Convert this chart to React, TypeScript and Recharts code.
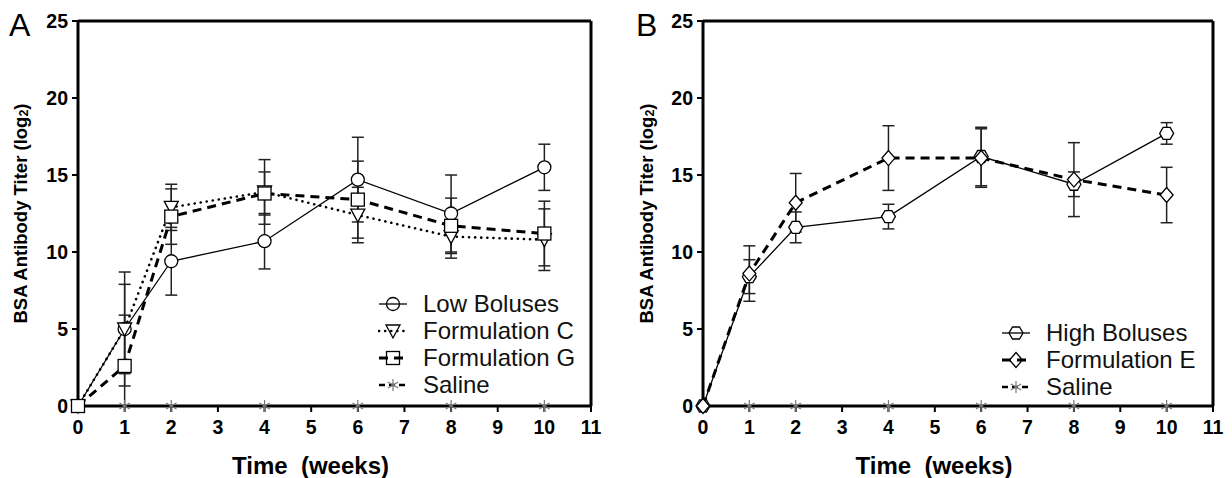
import { LineChart, Line, XAxis, YAxis, ErrorBar, ReferenceLine } from 'recharts';

const weeks = [0, 1, 2, 4, 6, 8, 10];
const xTicks = [0, 1, 2, 3, 4, 5, 6, 7, 8, 9, 10, 11];
const yTicks = [0, 5, 10, 15, 20, 25];

// panel A
const lowBoluses = [0, 5.0, 9.4, 10.7, 14.7, 12.5, 15.5];
const lowBolusesErr = [0, 3.7, 2.2, 1.8, 2.75, 2.5, 1.5];
const formulationC = [0, 5.0, 12.9, 13.9, 12.4, 11.0, 10.8];
const formulationCErr = [0, 2.9, 1.5, 2.1, 1.8, 1.4, 2.0];
const formulationG = [0, 2.6, 12.3, 13.8, 13.4, 11.7, 11.2];
const formulationGErr = [0, 3.3, 1.8, 1.4, 2.5, 1.8, 2.1];
const salineA = [0, 0, 0, 0, 0, 0, 0];

// panel B
const highBoluses = [0, 8.4, 11.6, 12.3, 16.2, 14.4, 17.7];
const highBolusesErr = [0, 1.1, 1.0, 0.8, 1.9, 0.8, 0.7];
const formulationE = [0, 8.6, 13.2, 16.1, 16.1, 14.7, 13.7];
const formulationEErr = [0, 1.8, 1.9, 2.1, 1.9, 2.4, 1.8];
const salineB = [0, 0, 0, 0, 0, 0, 0];

// lower whisker stops at the axis (titer can't go below 0)
const clipErr = (vals: number[], errs: number[]) => errs.map((e, i) => [Math.min(e, vals[i]), e]);

const makeRows = (cols: Record<string, (number | number[])[]>) =>
  weeks.map((w, i) => {
    const row: Record<string, any> = { week: w };
    Object.keys(cols).forEach((k) => (row[k] = cols[k][i]));
    return row;
  });

const dataA = makeRows({
  low: lowBoluses, lowErr: clipErr(lowBoluses, lowBolusesErr),
  c: formulationC, cErr: clipErr(formulationC, formulationCErr),
  g: formulationG, gErr: clipErr(formulationG, formulationGErr),
  saline: salineA,
});

const dataB = makeRows({
  high: highBoluses, highErr: clipErr(highBoluses, highBolusesErr),
  e: formulationE, eErr: clipErr(formulationE, formulationEErr),
  saline: salineB,
});

const FONT = '"Liberation Sans", Arial, Helvetica, sans-serif';

// marker shapes
const marker = (kind: string, cx: number, cy: number, fill = '#fff', key?: string) => {
  const s = { stroke: '#000', strokeWidth: 1.3, fill };
  switch (kind) {
    case 'circle':
      return <circle key={key} cx={cx} cy={cy} r={6.5} {...s} />;
    case 'triangle':
      return <polygon key={key} points={`${cx - 7},${cy - 6} ${cx + 7},${cy - 6} ${cx},${cy + 7}`} {...s} />;
    case 'square':
      return <rect key={key} x={cx - 6.5} y={cy - 6.5} width={13} height={13} {...s} />;
    case 'hexagon':
      return (
        <polygon
          key={key}
          points={`${cx + 7},${cy} ${cx + 3.5},${cy - 6} ${cx - 3.5},${cy - 6} ${cx - 7},${cy} ${cx - 3.5},${cy + 6} ${cx + 3.5},${cy + 6}`}
          {...s}
        />
      );
    case 'diamond':
      return <polygon key={key} points={`${cx},${cy - 7.5} ${cx + 6.5},${cy} ${cx},${cy + 7.5} ${cx - 6.5},${cy}`} {...s} />;
    default:
      return (
        <g key={key} stroke="#777" strokeWidth={1.2}>
          <line x1={cx} y1={cy - 6} x2={cx} y2={cy + 6} />
          <line x1={cx - 5.2} y1={cy - 3} x2={cx + 5.2} y2={cy + 3} />
          <line x1={cx - 5.2} y1={cy + 3} x2={cx + 5.2} y2={cy - 3} />
        </g>
      );
  }
};

const dotOf = (kind: string) => (p: any) => marker(kind, p.cx, p.cy, '#fff', `${kind}-${p.index}`);

type SeriesDef = {
  key: string;
  err?: string;
  name: string;
  kind: string;
  stroke: string;
  width: number;
  dash?: string;
  cap?: 'round' | 'butt';
};

const seriesA: SeriesDef[] = [
  { key: 'saline', name: 'Saline', kind: 'star', stroke: '#bbb', width: 1.2, dash: '6 6' },
  { key: 'low', err: 'lowErr', name: 'Low Boluses', kind: 'circle', stroke: '#000', width: 1.3 },
  { key: 'c', err: 'cErr', name: 'Formulation C', kind: 'triangle', stroke: '#000', width: 2.6, dash: '0.1 6', cap: 'round' },
  { key: 'g', err: 'gErr', name: 'Formulation G', kind: 'square', stroke: '#000', width: 3, dash: '9 6' },
];

const seriesB: SeriesDef[] = [
  { key: 'saline', name: 'Saline', kind: 'star', stroke: '#bbb', width: 1.2, dash: '6 6' },
  { key: 'high', err: 'highErr', name: 'High Boluses', kind: 'hexagon', stroke: '#000', width: 1.3 },
  { key: 'e', err: 'eErr', name: 'Formulation E', kind: 'diamond', stroke: '#000', width: 3, dash: '9 6' },
];

const legendOrderA = ['low', 'c', 'g', 'saline'];
const legendOrderB = ['high', 'e', 'saline'];

const LegendBox = ({ series, order, left, top }: { series: SeriesDef[]; order: string[]; left: number; top: number }) => (
  <div style={{ position: 'absolute', left, top, fontFamily: FONT, fontSize: 24, color: '#111', lineHeight: '27px' }}>
    {order.map((k) => {
      const s = series.find((d) => d.key === k)!;
      return (
        <div key={k} style={{ display: 'flex', alignItems: 'center', height: 27 }}>
          <svg width={30} height={20} style={{ marginRight: 15 }}>
            <line
              x1={1} y1={10} x2={29} y2={10}
              stroke="#000"
              strokeWidth={s.kind === 'star' ? 2.5 : s.width}
              strokeDasharray={s.kind === 'star' ? '6 4' : s.dash}
              strokeLinecap={s.cap ?? 'butt'}
            />
            {marker(s.kind, 15, 10, 'none')}
          </svg>
          <span>{s.name}</span>
        </div>
      );
    })}
  </div>
);

const YTitle = ({ viewBox, cx }: any) => {
  const cy = viewBox.y + viewBox.height / 2;
  return (
    <text
      transform={`translate(${cx},${cy}) rotate(-90)`}
      textAnchor="middle"
      dominantBaseline="central"
      fontFamily={FONT}
      fontWeight="bold"
      fontSize={18.5}
      fill="#000"
    >
      BSA Antibody Titer (log
      <tspan fontSize={12.5} dy={4}>2</tspan>
      <tspan dy={-4}>)</tspan>
    </text>
  );
};

const XTitle = ({ viewBox }: any) => (
  <text
    x={viewBox.x + viewBox.width / 2 - 24}
    y={474}
    textAnchor="middle"
    fontFamily={FONT}
    fontWeight="bold"
    fontSize={24}
    fill="#000"
    style={{ whiteSpace: 'pre' }}
  >
    {'Time  (weeks)'}
  </text>
);

type PanelProps = {
  letter: string;
  data: Record<string, any>[];
  series: SeriesDef[];
  order: string[];
  marginLeft: number;
  marginRight: number;
  titleX: number;
  letterX: number;
  legendLeft: number;
  legendTop: number;
};

const Panel = ({ letter, data, series, order, marginLeft, marginRight, titleX, letterX, legendLeft, legendTop }: PanelProps) => (
  <div style={{ position: 'relative', width: 616, height: 478 }}>
    <div style={{ position: 'absolute', left: letterX, top: 7, fontFamily: FONT, fontSize: 32, lineHeight: '36px' }}>{letter}</div>
    <LineChart width={616} height={478} data={data} margin={{ top: 21, right: marginRight, bottom: 0, left: marginLeft }}>
      <XAxis
        dataKey="week"
        type="number"
        domain={[0, 11]}
        ticks={xTicks}
        interval={0}
        height={72}
        axisLine={{ stroke: '#000', strokeWidth: 3 }}
        tickLine={{ stroke: '#000', strokeWidth: 2 }}
        tickSize={6}
        tickMargin={8}
        tick={{ fill: '#000', fontSize: 19.5, fontWeight: 'bold' }}
        label={<XTitle />}
      />
      <YAxis
        type="number"
        domain={[0, 25]}
        ticks={yTicks}
        interval={0}
        width={68}
        axisLine={{ stroke: '#000', strokeWidth: 3 }}
        tickLine={{ stroke: '#000', strokeWidth: 2 }}
        tickSize={6}
        tickMargin={4}
        tick={{ fill: '#000', fontSize: 19.5, fontWeight: 'bold' }}
        label={<YTitle cx={titleX} />}
      />
      <ReferenceLine y={25} stroke="#000" strokeWidth={3} />
      <ReferenceLine x={11} stroke="#000" strokeWidth={3} />
      {series.map((s) => (
        <Line
          key={s.key}
          dataKey={s.key}
          name={s.name}
          type="linear"
          stroke={s.stroke}
          strokeWidth={s.width}
          strokeDasharray={s.dash}
          strokeLinecap={s.cap ?? 'butt'}
          dot={dotOf(s.kind)}
          activeDot={false}
          isAnimationActive={false}
        >
          {s.err && <ErrorBar dataKey={s.err} direction="y" width={6} stroke="#222" strokeWidth={1.5} />}
        </Line>
      ))}
    </LineChart>
    <LegendBox series={series} order={order} left={legendLeft} top={legendTop} />
  </div>
);

export default function App() {
  return (
    <div style={{ position: 'absolute', left: 0, top: 0, width: 1232, height: 478, background: '#fff', display: 'flex', fontFamily: FONT }}>
      <Panel
        letter="A" data={dataA} series={seriesA} order={legendOrderA}
        marginLeft={10} marginRight={25} titleX={20} letterX={9}
        legendLeft={378} legendTop={290}
      />
      <Panel
        letter="B" data={dataB} series={seriesB} order={legendOrderB}
        marginLeft={19} marginRight={19} titleX={30} letterX={20}
        legendLeft={385} legendTop={319}
      />
    </div>
  );
}
